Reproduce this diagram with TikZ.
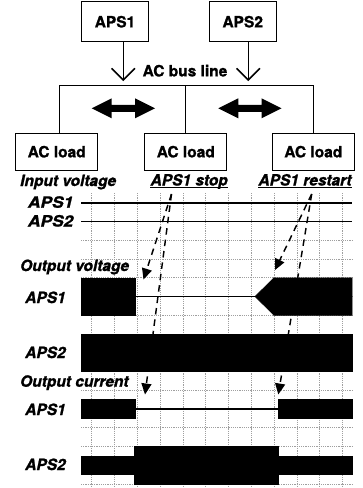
\documentclass[tikz,border=0pt]{standalone}
\usepackage{fontspec}
\setmainfont{TeX Gyre Heros}[BoldFeatures={FakeBold=1.2},BoldItalicFeatures={FakeBold=1.2}]
\usetikzlibrary{arrows.meta}
\begin{document}
\begin{tikzpicture}[x=1pt,y=-1pt,
  txt/.style={font=\fontsize{15.5}{18}\selectfont\bfseries, inner sep=0pt},
  itxt/.style={font=\fontsize{15.5}{18}\selectfont\bfseries\itshape, inner sep=0pt},
  srcbox/.style={draw, line width=0.9pt, minimum height=40pt, minimum width=66.7pt, txt},
  loadbox/.style={draw, line width=0.9pt, minimum height=36.7pt, minimum width=82pt, txt},
  feed/.style={line width=1.5pt},
  barb/.style={line width=1.5pt, line join=miter},
  busline/.style={line width=0.9pt},
  gridline/.style={gray!75, line width=0.6pt, dash pattern=on 1.2pt off 1pt},
  sigline/.style={line width=1.5pt},
  flowarrow/.style={line width=1.45pt, dash pattern=on 6.5pt off 5pt, -{Triangle[length=11pt,width=10pt]}},
  wave/.style={fill=black, draw=black, line width=0.5pt}
]
\useasboundingbox (0,0) rectangle (362,488);

% ---- top: sources, bus, loads ----
\node[srcbox] (aps1) at (115,21.7) {APS1};
\node[srcbox] (aps2) at (242.7,21.7) {APS2};
\coordinate (a1e) at (123.3,80);
\coordinate (a2e) at (248.3,80);
\draw[feed] (aps1.south -| a1e) -- (a1e);
\draw[feed] (aps2.south -| a2e) -- (a2e);
\draw[barb] (a1e) ++(-11.7,-11.7) -- (a1e) -- ++(11.7,-11.7);
\draw[barb] (a2e) ++(-11.7,-11.7) -- (a2e) -- ++(11.7,-11.7);
\node[txt] (busname) at (185,70.7) {AC bus line};

\node[loadbox] (l1) at (56.7,151.7) {AC load};
\node[loadbox] (l2) at (185.8,151.7) {AC load};
\node[loadbox] (l3) at (313.3,151.7) {AC load};
\coordinate (bL) at (59.3,85);
\coordinate (bM) at (185.7,85);
\coordinate (bR) at (313.3,85);
\draw[busline] (bL) -- (bR);
\draw[busline] (bL) -- (bL |- l1.north);
\draw[busline] (bM) -- (bM |- l2.north);
\draw[busline] (bR) -- (bR |- l3.north);

\foreach \dx in {0,126.6}{
  \fill[shift={(\dx,0)}] (91.7,108.3) -- (111.7,98.3) -- (111.7,104.8) -- (135,104.8) -- (135,98.3)
    -- (155,108.3) -- (135,118.3) -- (135,111.8) -- (111.7,111.8) -- (111.7,118.3) -- cycle;
}

% ---- timing chart grid ----
\foreach \k in {0,...,11}
  \draw[gridline] ({91.7+22.8*\k},193) -- ({91.7+22.8*\k},487);
\foreach \k in {3,...,16}
  \draw[gridline] (81,{184+18.75*\k}) -- (352,{184+18.75*\k});

% ---- labels ----
\node[itxt, anchor=base west] (iv) at (20,186) {Input voltage};
\node[itxt, anchor=base] (stop) at (189.2,185.5) {APS1 stop};
\node[itxt, anchor=base] (restart) at (305,185.5) {APS1 restart};
\draw[line width=0.9pt] ([yshift=-2pt]stop.base west) -- ([yshift=-2pt]stop.base east);
\draw[line width=0.9pt] ([yshift=-2pt]restart.base west) -- ([yshift=-2pt]restart.base east);

\node[itxt, anchor=base west, xscale=1.12] (in1) at (27.7,207.7) {APS1};
\node[itxt, anchor=base west, xscale=1.12] (in2) at (27.7,226.5) {APS2};
\node[itxt, anchor=base west] (ov) at (20,271) {Output voltage};
\node[itxt, anchor=base west] (ov1) at (25,303) {APS1};
\node[itxt, anchor=base west] (ov2) at (25,358) {APS2};
\node[itxt, anchor=base west] (oc) at (20,386.7) {Output current};
\node[itxt, anchor=base west] (oc1) at (25,415) {APS1};
\node[itxt, anchor=base west] (oc2) at (25,470) {APS2};

% ---- input voltage ----
\draw[sigline] (81,202.75) -- (352,202.75);
\draw[sigline] (81,221.5) -- (352,221.5);

% ---- dashed cause arrows ----
\coordinate (s0) at (171.5,194);
\coordinate (s1) at (143.5,279.5);
\coordinate (s2) at (145,394.5);
\coordinate (r0) at (311.7,194);
\coordinate (r1) at (275,270);
\coordinate (r2) at (278.3,394.5);
\draw[flowarrow] (s0) -- (s1);
\draw[flowarrow] (s0) -- (s2);
\draw[flowarrow] (r0) -- (r1);
\draw[flowarrow] (r0) -- (r2);

% ---- output voltage ----
\filldraw[wave] (81,277.75) rectangle (135,315.25);
\draw[line width=1.3pt] (135,296.5) -- (255,296.5);
\filldraw[wave] (274,277.75) -- (352,277.75) -- (352,315.25) -- (274,315.25) -- (255,296.5) -- cycle;
\filldraw[wave] (81,334) rectangle (352,371.5);

% ---- output current ----
\filldraw[wave] (81,399.6) rectangle (135,418.4);
\draw[line width=1.3pt] (135,409) -- (278.3,409);
\filldraw[wave] (278.3,399.6) rectangle (352,418.4);
\filldraw[wave] (81,455.9) rectangle (134.3,474.6);
\filldraw[wave] (134.3,446.5) rectangle (278.3,484);
\filldraw[wave] (278.3,455.9) rectangle (352,474.6);
\end{tikzpicture}
\end{document}
